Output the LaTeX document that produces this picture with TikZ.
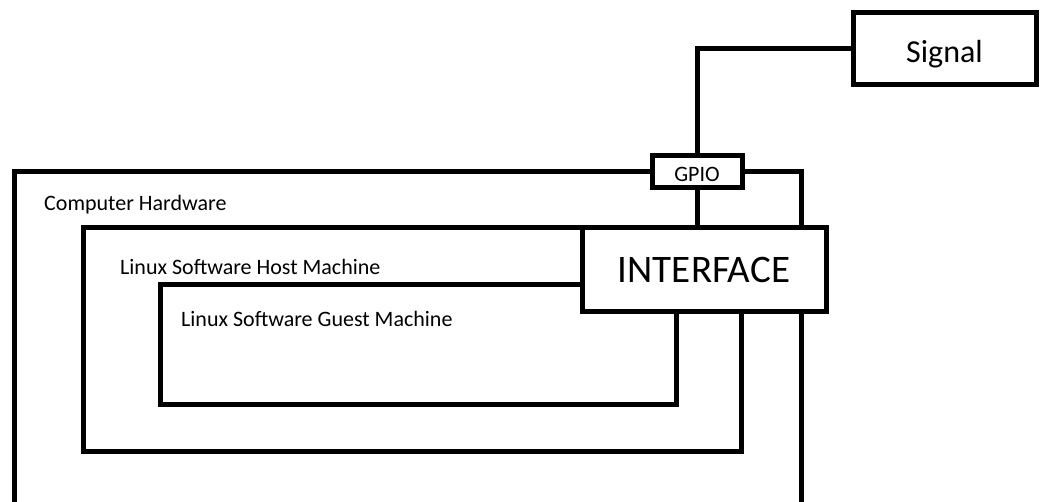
\documentclass[tikz,border=0pt]{standalone}
\usepackage{fontspec}
\setmainfont{Carlito}
\begin{document}
\begin{tikzpicture}[x=1pt,y=-1pt,
  wire/.style={line width=5pt,line join=miter},
  boxnode/.style={draw,line width=5pt,fill=white,inner sep=0pt,outer sep=0pt,text depth=0pt},
  sigbox/.style={boxnode,minimum width=183pt,minimum height=72pt,text height=28pt,font=\fontsize{32}{38}\selectfont},
  gpiobox/.style={boxnode,minimum width=90pt,minimum height=32pt,text height=19.5pt,font=\fontsize{22}{26}\selectfont},
  ifbox/.style={boxnode,minimum width=244pt,minimum height=84pt,text height=26pt,font=\fontsize{39}{46}\selectfont},
  lbl/.style={anchor=base west,inner sep=0pt,font=\fontsize{22}{26}\selectfont}]
\useasboundingbox (0,0) rectangle (1041,502);
% nodes
\node[sigbox] (signal) at (944.5,49) {Signal};
\node[gpiobox] (gpio) at (697,172) {GPIO};
\node[ifbox] (iface) at (704,270) {INTERFACE};
% coordinates
\coordinate (hw2) at (14,502);
\coordinate (hw4) at (801,502);
\coordinate (h1) at (83,228);
\coordinate (h2) at (83,451);
\coordinate (h3) at (741,451);
\coordinate (g1) at (160,285);
\coordinate (g2) at (160,404);
\coordinate (g3) at (676,404);
% connectors / boxes
\draw[wire] (gpio.north) |- (signal.west);
\draw[wire] (gpio.south) -- (gpio.south |- iface.north);
\draw[wire] (gpio.west) -| (hw2);
\draw[wire] (gpio.east) -| (hw4);
\draw[wire] (iface.north west) -- (h1) -- (h2) -- (h3) -- (h3 |- iface.south);
\draw[wire] (iface.west |- g1) -- (g1) -- (g2) -- (g3) -- (g3 |- iface.south);
% redraw nodes on top
\node[sigbox] at (signal) {Signal};
\node[gpiobox] at (gpio) {GPIO};
\node[ifbox] at (iface) {INTERFACE};
% labels
\node[lbl] (lhw) at (44,210.5) {Computer Hardware};
\node[lbl] (lhost) at (120,275) {Linux Software Host Machine};
\node[lbl] (lguest) at (181,327) {Linux Software Guest Machine};
\end{tikzpicture}
\end{document}
